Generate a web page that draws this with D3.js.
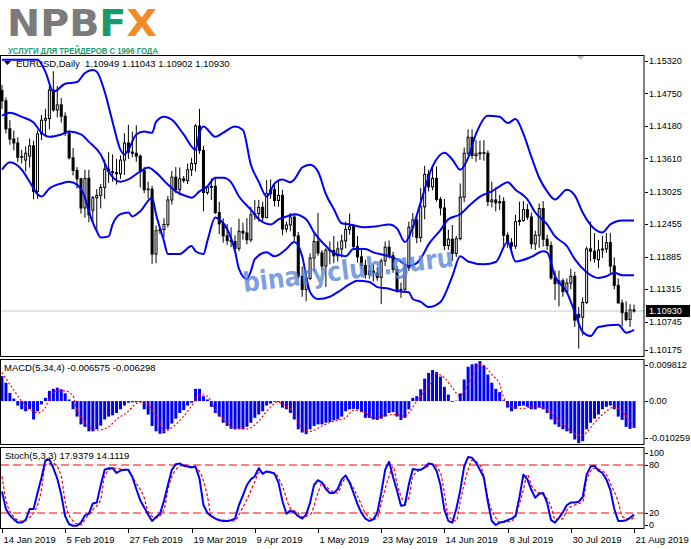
<!DOCTYPE html>
<html>
<head>
<meta charset="utf-8">
<script src="https://d3js.org/d3.v7.min.js"></script>
<style>
body { margin: 0; background: #fff; }
text { font-family: "Liberation Sans", Arial, sans-serif; }
</style>
</head>
<body>
<script>
var w = 691, h = 549;

// bar dates (2019, MM-DD) - includes the short sunday sessions of 10/17/24 Mar
var dates = ["01-14","01-15","01-16","01-17","01-18","01-21","01-22","01-23","01-24","01-25","01-28","01-29","01-30","01-31",
  "02-01","02-04","02-05","02-06","02-07","02-08","02-11","02-12","02-13","02-14","02-15","02-18","02-19","02-20","02-21","02-22","02-25","02-26","02-27","02-28",
  "03-01","03-04","03-05","03-06","03-07","03-08","03-10","03-11","03-12","03-13","03-14","03-15","03-17","03-18","03-19","03-20","03-21","03-22","03-24","03-25","03-26","03-27","03-28","03-29",
  "04-01","04-02","04-03","04-04","04-05","04-08","04-09","04-10","04-11","04-12","04-15","04-16","04-17","04-18","04-19","04-22","04-23","04-24","04-25","04-26","04-29","04-30",
  "05-01","05-02","05-03","05-06","05-07","05-08","05-09","05-10","05-13","05-14","05-15","05-16","05-17","05-20","05-21","05-22","05-23","05-24","05-27","05-28","05-29","05-30","05-31",
  "06-03","06-04","06-05","06-06","06-07","06-10","06-11","06-12","06-13","06-14","06-17","06-18","06-19","06-20","06-21","06-24","06-25","06-26","06-27","06-28",
  "07-01","07-02","07-03","07-04","07-05","07-08","07-09","07-10","07-11","07-12","07-15","07-16","07-17","07-18","07-19","07-22","07-23","07-24","07-25","07-26","07-29","07-30","07-31",
  "08-01","08-02","08-05","08-06","08-07","08-08","08-09","08-12","08-13","08-14","08-15","08-16","08-19","08-20","08-21"];

// open, high, low, close
var ohlc = [
  [1.1480,1.1490,1.1448,1.1462],[1.1462,1.1468,1.1405,1.1413],[1.1413,1.1428,1.1385,1.1395],[1.1395,1.1410,1.1375,1.1388],[1.1388,1.1398,1.1355,1.1363],
  [1.1363,1.1376,1.1352,1.1364],[1.1358,1.1382,1.1338,1.1370],[1.1365,1.1396,1.1345,1.1383],[1.1383,1.1392,1.1289,1.1303],[1.1303,1.1410,1.1290,1.1404],
  [1.1404,1.1437,1.1393,1.1428],[1.1428,1.1448,1.1402,1.1431],[1.1431,1.1490,1.1412,1.1481],[1.1481,1.1514,1.1443,1.1446],[1.1446,1.1488,1.1433,1.1455],
  [1.1455,1.1467,1.1424,1.1435],[1.1435,1.1442,1.1400,1.1405],[1.1405,1.1410,1.1359,1.1362],[1.1362,1.1379,1.1331,1.1340],[1.1340,1.1346,1.1308,1.1325],
  [1.1325,1.1327,1.1264,1.1274],[1.1274,1.1341,1.1257,1.1326],[1.1326,1.1341,1.1249,1.1262],[1.1270,1.1295,1.1249,1.1292],[1.1292,1.1307,1.1234,1.1296],
  [1.1296,1.1316,1.1273,1.1310],[1.1310,1.1359,1.1290,1.1342],[1.1342,1.1372,1.1318,1.1338],[1.1338,1.1368,1.1320,1.1336],[1.1336,1.1360,1.1315,1.1334],
  [1.1334,1.1366,1.1325,1.1358],[1.1358,1.1405,1.1332,1.1388],[1.1388,1.1420,1.1360,1.1372],[1.1372,1.1408,1.1363,1.1370],[1.1370,1.1419,1.1355,1.1365],
  [1.1365,1.1368,1.1310,1.1340],[1.1340,1.1346,1.1300,1.1306],[1.1306,1.1320,1.1290,1.1307],[1.1307,1.1313,1.1176,1.1193],[1.1193,1.1243,1.1177,1.1234],
  [1.1234,1.1240,1.1228,1.1236],[1.1236,1.1256,1.1222,1.1245],[1.1245,1.1295,1.1240,1.1288],[1.1288,1.1339,1.1280,1.1328],[1.1328,1.1346,1.1300,1.1306],
  [1.1306,1.1345,1.1296,1.1325],[1.1325,1.1330,1.1318,1.1322],[1.1322,1.1352,1.1316,1.1341],[1.1341,1.1362,1.1330,1.1352],[1.1352,1.1421,1.1338,1.1418],
  [1.1418,1.1448,1.1369,1.1375],[1.1375,1.1383,1.1268,1.1301],[1.1301,1.1313,1.1297,1.1310],[1.1310,1.1326,1.1288,1.1312],[1.1312,1.1325,1.1263,1.1266],
  [1.1266,1.1285,1.1228,1.1246],[1.1246,1.1256,1.1213,1.1225],[1.1225,1.1246,1.1209,1.1217],[1.1217,1.1240,1.1205,1.1215],[1.1215,1.1226,1.1196,1.1203],
  [1.1203,1.1255,1.1198,1.1233],[1.1233,1.1248,1.1218,1.1230],[1.1230,1.1256,1.1210,1.1218],[1.1218,1.1276,1.1214,1.1262],[1.1262,1.1288,1.1253,1.1264],
  [1.1264,1.1288,1.1250,1.1275],[1.1275,1.1285,1.1251,1.1257],[1.1257,1.1323,1.1256,1.1299],[1.1299,1.1324,1.1290,1.1306],[1.1306,1.1316,1.1277,1.1287],
  [1.1287,1.1323,1.1276,1.1296],[1.1296,1.1306,1.1226,1.1237],[1.1237,1.1250,1.1231,1.1244],[1.1244,1.1265,1.1233,1.1258],[1.1258,1.1264,1.1216,1.1225],
  [1.1225,1.1232,1.1149,1.1154],[1.1154,1.1171,1.1118,1.1131],[1.1131,1.1164,1.1110,1.1150],[1.1150,1.1194,1.1147,1.1186],[1.1186,1.1229,1.1162,1.1215],
  [1.1215,1.1265,1.1190,1.1195],[1.1195,1.1200,1.1164,1.1172],[1.1172,1.1203,1.1135,1.1200],[1.1200,1.1215,1.1175,1.1199],[1.1199,1.1225,1.1177,1.1190],
  [1.1190,1.1215,1.1180,1.1202],[1.1202,1.1227,1.1187,1.1216],[1.1216,1.1250,1.1203,1.1236],[1.1236,1.1264,1.1227,1.1241],[1.1241,1.1246,1.1200,1.1206],
  [1.1206,1.1225,1.1178,1.1188],[1.1188,1.1204,1.1166,1.1173],[1.1173,1.1183,1.1150,1.1157],[1.1157,1.1174,1.1150,1.1163],[1.1163,1.1175,1.1145,1.1160],
  [1.1160,1.1170,1.1146,1.1152],[1.1152,1.1185,1.1105,1.1181],[1.1181,1.1215,1.1172,1.1205],[1.1205,1.1217,1.1185,1.1190],[1.1190,1.1197,1.1160,1.1166],
  [1.1166,1.1172,1.1125,1.1130],[1.1130,1.1143,1.1116,1.1131],[1.1131,1.1176,1.1126,1.1169],[1.1169,1.1250,1.1163,1.1240],[1.1240,1.1265,1.1223,1.1253],
  [1.1253,1.1260,1.1212,1.1222],[1.1222,1.1309,1.1214,1.1276],[1.1276,1.1348,1.1254,1.1333],[1.1333,1.1341,1.1303,1.1311],[1.1311,1.1348,1.1305,1.1326],
  [1.1326,1.1347,1.1285,1.1289],[1.1289,1.1293,1.1261,1.1274],[1.1274,1.1290,1.1200,1.1208],[1.1208,1.1236,1.1200,1.1219],[1.1219,1.1244,1.1181,1.1194],
  [1.1194,1.1225,1.1188,1.1220],[1.1220,1.1317,1.1217,1.1293],[1.1293,1.1380,1.1284,1.1370],[1.1370,1.1412,1.1366,1.1398],[1.1398,1.1412,1.1360,1.1366],
  [1.1366,1.1393,1.1355,1.1369],[1.1369,1.1392,1.1358,1.1371],[1.1371,1.1393,1.1357,1.1370],[1.1370,1.1375,1.1277,1.1285],[1.1285,1.1320,1.1275,1.1288],
  [1.1288,1.1310,1.1268,1.1283],[1.1283,1.1297,1.1270,1.1285],[1.1285,1.1293,1.1206,1.1226],[1.1226,1.1231,1.1204,1.1213],[1.1213,1.1221,1.1193,1.1207],
  [1.1207,1.1262,1.1202,1.1250],[1.1250,1.1285,1.1243,1.1252],[1.1252,1.1286,1.1250,1.1271],[1.1271,1.1281,1.1253,1.1258],[1.1258,1.1266,1.1202,1.1211],
  [1.1211,1.1234,1.1200,1.1226],[1.1226,1.1282,1.1204,1.1273],[1.1273,1.1286,1.1206,1.1219],[1.1219,1.1227,1.1200,1.1208],[1.1208,1.1215,1.1148,1.1151],
  [1.1151,1.1164,1.1112,1.1141],[1.1141,1.1164,1.1101,1.1146],[1.1146,1.1150,1.1118,1.1127],[1.1127,1.1150,1.1124,1.1142],[1.1142,1.1167,1.1131,1.1154],
  [1.1154,1.1162,1.1065,1.1077],[1.1087,1.1100,1.1027,1.1082],[1.1082,1.1117,1.1050,1.1108],[1.1108,1.1206,1.1105,1.1202],[1.1202,1.1250,1.1180,1.1198],
  [1.1198,1.1230,1.1178,1.1185],[1.1183,1.1218,1.1168,1.1200],[1.1200,1.1225,1.1186,1.1202],[1.1202,1.1230,1.1195,1.1213],[1.1213,1.1230,1.1160,1.1172],
  [1.1172,1.1187,1.1131,1.1138],[1.1138,1.1150,1.1107,1.1107],[1.1107,1.1113,1.1066,1.1090],[1.1090,1.1110,1.1075,1.1078],[1.1078,1.1105,1.1065,1.1095],
  [1.10949,1.11043,1.10902,1.10930]
];

// bollinger bands as [bar index, price]
var bbUpper = [[0,1.1534],[9,1.1534],[11,1.1513],[13,1.1478],[16,1.1492],[19,1.1495],[21,1.1511],[23,1.1516],[24,1.1513],[26,1.1478],[28,1.1425],
  [30,1.1376],[31,1.1368],[32,1.1376],[34,1.1403],[36,1.1408],[38,1.1406],[39,1.1425],[41,1.1434],[43,1.1429],[46,1.1403],[49,1.1376],[50,1.1406],
  [51,1.1417],[54,1.1399],[56,1.1406],[59,1.1417],[61,1.1411],[63,1.1350],[65,1.1320],[67,1.1294],[69,1.1317],[71,1.1324],[73,1.1319],[74,1.1324],
  [76,1.1345],[78,1.1350],[80,1.1338],[82,1.1298],[84,1.1272],[86,1.1247],[88,1.1245],[92,1.1240],[95,1.1242],[98,1.1245],[100,1.1238],[102,1.1214],
  [104,1.1240],[106,1.1284],[109,1.1347],[112,1.1371],[114,1.1359],[116,1.1341],[118,1.1362],[120,1.1404],[123,1.1436],[126,1.1434],[128,1.1423],
  [130,1.1430],[132,1.1404],[134,1.1364],[136,1.1327],[138,1.1303],[140,1.1289],[143,1.1306],[145,1.1296],[147,1.1266],[150,1.1237],[152,1.1231],
  [154,1.1245],[157,1.1252],[160,1.1252]];
var bbMiddle = [[0,1.1436],[2,1.1441],[5,1.1434],[8,1.1424],[10,1.1406],[12,1.1399],[15,1.1403],[17,1.1408],[20,1.1403],[22,1.1390],[25,1.1368],
  [27,1.1338],[30,1.1320],[32,1.1324],[35,1.1338],[37,1.1345],[39,1.1336],[42,1.1315],[44,1.1303],[47,1.1294],[48,1.1292],[50,1.1303],[52,1.1312],
  [54,1.1327],[56,1.1327],[58,1.1319],[60,1.1294],[63,1.1271],[65,1.1254],[68,1.1245],[70,1.1254],[73,1.1261],[74,1.1263],[77,1.1254],[79,1.1231],
  [82,1.1207],[84,1.1195],[87,1.1189],[89,1.1202],[92,1.1202],[94,1.1196],[98,1.1189],[100,1.1184],[103,1.1172],[105,1.1177],[106,1.1185],[108,1.1210],
  [111,1.1235],[113,1.1254],[116,1.1263],[118,1.1276],[121,1.1294],[124,1.1303],[126,1.1312],[128,1.1319],[130,1.1306],[133,1.1289],[135,1.1266],
  [138,1.1245],[140,1.1224],[143,1.1207],[145,1.1184],[148,1.1161],[151,1.1151],[153,1.1154],[155,1.1160],[157,1.1156],[160,1.1156]];
var bbLower = [[0,1.1341],[2,1.1354],[5,1.1341],[7,1.1320],[9,1.1298],[10,1.1294],[12,1.1308],[15,1.1317],[17,1.1320],[19,1.1315],[21,1.1292],
  [22,1.1268],[24,1.1233],[25,1.1222],[27,1.1224],[28,1.1245],[30,1.1263],[32,1.1266],[33,1.1259],[35,1.1268],[38,1.1292],[39,1.1263],[41,1.1216],
  [42,1.1193],[45,1.1193],[48,1.1207],[49,1.1198],[51,1.1193],[52,1.1216],[54,1.1257],[55,1.1254],[57,1.1237],[59,1.1198],[60,1.1167],[62,1.1149],
  [63,1.1163],[64,1.1184],[67,1.1196],[69,1.1189],[72,1.1202],[74,1.1214],[76,1.1189],[77,1.1154],[78,1.1126],[80,1.1114],[83,1.1118],[85,1.1126],
  [88,1.1140],[90,1.1146],[93,1.1144],[95,1.1135],[98,1.1132],[100,1.1128],[103,1.1126],[104,1.1114],[106,1.1109],[108,1.1100],[111,1.1109],
  [114,1.1154],[116,1.1189],[118,1.1180],[122,1.1175],[125,1.1179],[128,1.1214],[130,1.1180],[134,1.1188],[137,1.1198],[138,1.1196],[140,1.1154],
  [143,1.1126],[145,1.1091],[147,1.1056],[149,1.1049],[151,1.1065],[156,1.1069],[158,1.1055],[160,1.1060]];

// MACD(5,34,4) histogram, one value per bar
var macdHist = [
  0.0061,0.0045,0.0020,0.0006,-0.0011,-0.0020,-0.0025,-0.0020,-0.0045,-0.0025,
  -0.0008,0.0008,0.0025,0.0030,0.0033,0.0029,0.0019,0.0004,-0.0020,-0.0038,
  -0.0057,-0.0063,-0.0074,-0.0074,-0.0069,-0.0060,-0.0045,-0.0038,-0.0035,-0.0029,
  -0.0020,-0.0011,-0.0004,-0.0003,-0.0003,-0.0002,-0.0020,-0.0033,-0.0061,-0.0074,
  -0.0080,-0.0079,-0.0069,-0.0055,-0.0043,-0.0029,-0.0022,-0.0011,-0.0004,0.0030,
  0.0030,0.0012,0.0004,-0.0014,-0.0029,-0.0038,-0.0053,-0.0061,-0.0068,-0.0069,
  -0.0068,-0.0069,-0.0063,-0.0053,-0.0041,-0.0033,-0.0025,-0.0011,-0.0006,-0.0002,
  -0.0002,-0.0016,-0.0020,-0.0029,-0.0045,-0.0069,-0.0077,-0.0081,-0.0069,-0.0061,
  -0.0057,-0.0057,-0.0053,-0.0051,-0.0047,-0.0045,-0.0038,-0.0025,-0.0020,-0.0019,
  -0.0020,-0.0027,-0.0041,-0.0041,-0.0045,-0.0046,-0.0043,-0.0038,-0.0029,-0.0027,
  -0.0038,-0.0046,-0.0041,-0.0020,0.0008,0.0012,0.0029,0.0055,0.0069,0.0076,
  0.0071,0.0060,0.0035,0.0016,-0.0002,0.0001,0.0019,0.0053,0.0084,0.0090,
  0.0092,0.0098,0.0087,0.0065,0.0045,0.0030,0.0022,0.0002,-0.0016,-0.0025,
  -0.0019,-0.0012,-0.0011,-0.0014,-0.0020,-0.0020,-0.0016,-0.0020,-0.0029,-0.0045,
  -0.0057,-0.0063,-0.0069,-0.0074,-0.0079,-0.0094,-0.0103,-0.0098,-0.0069,-0.0053,
  -0.0043,-0.0033,-0.0020,-0.0014,-0.0011,-0.0020,-0.0038,-0.0046,-0.0063,-0.0068,
  -0.006575];
var macdSignal = [[0,0.0070],[2,0.0041],[5,0.0000],[7,-0.0020],[9,-0.0029],[11,-0.0016],[12,0.0008],[14,0.0025],[16,0.0025],[18,0.0012],
  [19,-0.0020],[21,-0.0053],[24,-0.0071],[27,-0.0063],[29,-0.0045],[32,-0.0025],[34,-0.0006],[36,-0.0002],[38,-0.0020],[40,-0.0053],[41,-0.0074],
  [43,-0.0065],[46,-0.0037],[48,-0.0012],[50,0.0016],[52,0.0012],[54,-0.0020],[57,-0.0053],[59,-0.0068],[62,-0.0068],[65,-0.0049],[67,-0.0025],
  [70,-0.0002],[71,-0.0008],[74,-0.0029],[76,-0.0065],[78,-0.0074],[81,-0.0061],[84,-0.0049],[87,-0.0041],[89,-0.0022],[92,-0.0029],[94,-0.0041],
  [97,-0.0035],[100,-0.0033],[102,-0.0038],[103,-0.0029],[105,0.0000],[108,0.0037],[110,0.0067],[112,0.0057],[114,0.0033],[116,0.0012],[117,0.0025],
  [119,0.0061],[121,0.0090],[122,0.0087],[124,0.0065],[126,0.0041],[127,0.0008],[129,-0.0014],[132,-0.0018],[134,-0.0014],[137,-0.0016],[139,-0.0030],
  [142,-0.0057],[144,-0.0074],[147,-0.0084],[148,-0.0077],[150,-0.0053],[153,-0.0025],[155,-0.0014],[157,-0.0027],[160,-0.006298]];

// Stochastic(5,3,3)
var stochMain = [
  47,25,17,12,8,8,11,25,25,45, 64,86,87,76,63,43,16,6,4,4, 8,17,19,32,33,55,74,76,76,70,
  73,74,74,65,50,36,27,18,10,15, 19,35,55,74,81,82,79,78,77,78, 63,30,20,16,13,11,10,10,11,13,
  30,42,55,62,66,76,69,72,71,69, 58,35,19,23,21,16,13,18,33,55, 61,58,50,45,45,50,62,67,58,45,
  31,20,13,10,12,20,45,74,84,65, 48,29,30,56,75,74,74,77,82,81, 73,55,24,10,8,25,48,78,90,89,
  83,74,64,34,10,5,8,9,11,13, 16,40,68,62,49,39,44,45,33,11, 8,14,21,30,33,33,34,40,68,78,
  79,73,70,62,49,25,10,10,11,14, 17.9379];
var stochSignal = [[0,66],[1,37],[3,15],[5,10],[6,12],[8,20],[10,49],[11,80],[13,82],[15,66],[16,34],[18,10],[20,5],[21,12],[23,24],[25,37],
  [26,66],[28,76],[31,74],[32,72],[34,57],[36,39],[37,22],[39,14],[41,24],[42,49],[44,74],[46,80],[48,78],[50,72],[52,41],[53,16],[56,11],[59,10],
  [60,18],[62,37],[64,59],[65,70],[67,71],[69,70],[71,53],[73,26],[75,20],[76,15],[78,18],[80,45],[81,57],[83,49],[85,45],[86,56],[87,63],[88,59],
  [90,41],[92,20],[94,12],[95,14],[96,32],[98,66],[99,78],[100,57],[102,34],[103,39],[104,66],[106,74],[107,76],[109,81],[111,70],[112,45],[113,16],
  [115,10],[116,34],[118,74],[119,86],[121,80],[122,66],[123,39],[125,14],[126,8],[129,10],[130,18],[132,49],[133,68],[134,55],[136,45],[137,43],
  [139,28],[140,12],[142,13],[143,24],[145,30],[147,34],[148,61],[150,76],[151,75],[153,68],[154,57],[156,34],[157,16],[159,12],[160,14.1119]];

var priceTicks = [1.15320, 1.14750, 1.14180, 1.13610, 1.13025, 1.12455, 1.11885, 1.11315, 1.10745, 1.10175];
var macdTicks = [0.009812, 0, -0.010259];
var macdTickLabels = ["0.009812", "0.00", "-0.010259"];
var stochTicks = [100, 80, 20, 0];
var stochLevels = [80, 20];
var dateTicks = ["01-14","02-05","02-27","03-19","04-09","05-01","05-23","06-14","07-08","07-30","08-21"];
var dateTickLabels = ["14 Jan 2019","5 Feb 2019","27 Feb 2019","19 Mar 2019","9 Apr 2019","1 May 2019","23 May 2019","14 Jun 2019","8 Jul 2019","30 Jul 2019","21 Aug 2019"];
var lastPrice = 1.10930;

// panels
var left = 1, right = 644;
var main = { top: 55, bottom: 356 };
var macdP = { top: 359, bottom: 444 };
var stochP = { top: 447, bottom: 528 };

var svg = d3.select("body").append("svg")
    .attr("width", w).attr("height", h)
    .style("display", "block");

svg.append("rect").attr("width", w).attr("height", h).attr("fill", "#fff");

// ---- logo
var logo = svg.append("text")
    .attr("x", 7).attr("y", 36)
    .attr("font-size", 38).attr("font-weight", "bold")
    .style("font-family", "'DejaVu Sans', sans-serif")
    .attr("textLength", 150).attr("lengthAdjust", "spacingAndGlyphs");
logo.append("tspan").attr("fill", "#7b7b7b").text("NPB");
logo.append("tspan").attr("fill", "#1a9a6c").text("F");
logo.append("tspan").attr("fill", "#f28b26").text("X");

svg.append("text")
    .attr("x", 8).attr("y", 53.5)
    .attr("font-size", 9.2).attr("font-weight", "bold")
    .attr("fill", "#1a9a6c")
    .attr("textLength", 150).attr("lengthAdjust", "spacingAndGlyphs")
    .text("УСЛУГИ ДЛЯ ТРЕЙДЕРОВ С 1996 ГОДА");

// ---- scales
var x = d3.scaleBand().domain(dates).range([0, 636]);
var cx = function (d) { return x(d) + x.bandwidth() / 2; };
var xi = function (i) { return cx(dates[i]); };

var y = d3.scaleLinear().domain([1.10175, 1.15320]).range([354, 61]);
var yM = d3.scaleLinear().domain([-0.010259, 0.009812]).range([443, 361]);
var yS = d3.scaleLinear().domain([0, 100]).range([529, 449]);

var defs = svg.append("defs");
[["clipMain", main], ["clipMacd", macdP], ["clipStoch", stochP]].forEach(function (c) {
    defs.append("clipPath").attr("id", c[0]).append("rect")
        .attr("x", left).attr("y", c[1].top)
        .attr("width", right - left).attr("height", c[1].bottom - c[1].top);
});

// ---- main panel
var gMain = svg.append("g").attr("clip-path", "url(#clipMain)");

gMain.append("line")
    .attr("x1", left).attr("x2", right)
    .attr("y1", y(lastPrice)).attr("y2", y(lastPrice))
    .attr("stroke", "#c8c8c8").attr("stroke-width", 1);

// watermark
svg.append("text")
    .attr("transform", "translate(244,292) rotate(-7)")
    .attr("font-size", 27).attr("font-weight", "bold")
    .style("font-family", "'DejaVu Sans', sans-serif")
    .attr("fill", "#5b86d6").attr("fill-opacity", 0.8)
    .attr("textLength", 212).attr("lengthAdjust", "spacingAndGlyphs")
    .text("binaryclub.guru");

var candle = gMain.selectAll("g.candle")
    .data(ohlc)
    .enter().append("g").attr("class", "candle");

candle.append("line")
    .attr("x1", function (d, i) { return xi(i); })
    .attr("x2", function (d, i) { return xi(i); })
    .attr("y1", function (d) { return y(d[1]); })
    .attr("y2", function (d) { return y(d[2]); })
    .attr("stroke", "#000").attr("stroke-width", 1);

candle.append("rect")
    .attr("x", function (d, i) { return xi(i) - 1; })
    .attr("width", 2)
    .attr("y", function (d) { return y(Math.max(d[0], d[3])); })
    .attr("height", function (d) { return Math.max(0.5, Math.abs(y(d[0]) - y(d[3]))); })
    .attr("fill", function (d) { return d[3] >= d[0] ? "#fff" : "#000"; })
    .attr("stroke", "#000").attr("stroke-width", 1);

var bandLine = d3.line()
    .x(function (d) { return xi(d[0]); })
    .y(function (d) { return y(d[1]); })
    .curve(d3.curveMonotoneX);

[bbUpper, bbMiddle, bbLower].forEach(function (band) {
    gMain.append("path")
        .attr("d", bandLine(band))
        .attr("fill", "none")
        .attr("stroke", "#0000ff").attr("stroke-width", 2);
});

// shift marker
svg.append("path")
    .attr("d", "M576,55 L585,55 L580.5,60 Z")
    .attr("fill", "#bdbdbd");

// header
svg.append("path").attr("d", "M4,61 L11,61 L7.5,65 Z").attr("fill", "#000");
svg.append("text").attr("x", 16).attr("y", 67).attr("font-size", 9.5)
    .attr("fill", "#000").text("EURUSD,Daily");
svg.append("text").attr("x", 85).attr("y", 67).attr("font-size", 9.5)
    .attr("fill", "#000")
    .text(ohlc[ohlc.length - 1].map(function (v) { return v.toFixed(5); }).join(" "));

// ---- MACD panel
var gMacd = svg.append("g").attr("clip-path", "url(#clipMacd)");

gMacd.selectAll("rect.hist")
    .data(macdHist)
    .enter().append("rect").attr("class", "hist")
    .attr("x", function (d, i) { return xi(i) - 1.5; })
    .attr("width", 3)
    .attr("y", function (d) { return Math.min(yM(0), yM(d)); })
    .attr("height", function (d) { return Math.abs(yM(d) - yM(0)); })
    .attr("fill", "#0000ff");

gMacd.append("path")
    .attr("d", d3.line()
        .x(function (d) { return xi(d[0]); })
        .y(function (d) { return yM(d[1]); })
        .curve(d3.curveMonotoneX)(macdSignal))
    .attr("fill", "none")
    .attr("stroke", "#ff0000").attr("stroke-width", 1.2)
    .attr("stroke-dasharray", "2,2");

svg.append("text").attr("x", 4).attr("y", 371).attr("font-size", 9.5)
    .attr("fill", "#000")
    .text("MACD(5,34,4) " + macdHist[macdHist.length - 1].toFixed(6) + " " + macdSignal[macdSignal.length - 1][1].toFixed(6));

// ---- Stochastic panel
var gStoch = svg.append("g").attr("clip-path", "url(#clipStoch)");

gStoch.selectAll("line.level")
    .data(stochLevels)
    .enter().append("line").attr("class", "level")
    .attr("x1", left).attr("x2", right)
    .attr("y1", function (d) { return yS(d); })
    .attr("y2", function (d) { return yS(d); })
    .attr("stroke", "#ff0000").attr("stroke-width", 1)
    .attr("stroke-dasharray", "8,4");

gStoch.append("path")
    .attr("d", d3.line()
        .x(function (d) { return xi(d[0]); })
        .y(function (d) { return yS(d[1]); })
        .curve(d3.curveMonotoneX)(stochSignal))
    .attr("fill", "none")
    .attr("stroke", "#ff0000").attr("stroke-width", 1.2)
    .attr("stroke-dasharray", "3,2");

gStoch.append("path")
    .attr("d", d3.line()
        .x(function (d, i) { return xi(i); })
        .y(function (d) { return yS(d); })(stochMain))
    .attr("fill", "none")
    .attr("stroke", "#0000ff").attr("stroke-width", 2)
    .attr("stroke-linejoin", "round");

svg.append("text").attr("x", 5).attr("y", 459).attr("font-size", 9.5)
    .attr("fill", "#000")
    .text("Stoch(5,3,3) " + stochMain[stochMain.length - 1].toFixed(4) + " " + stochSignal[stochSignal.length - 1][1].toFixed(4));

// ---- frames
[main, macdP, stochP].forEach(function (p) {
    svg.append("rect")
        .attr("x", left - 0.5).attr("y", p.top + 0.5)
        .attr("width", right - left + 0.5).attr("height", p.bottom - p.top)
        .attr("fill", "none").attr("stroke", "#000").attr("stroke-width", 1);
});

// ---- right axes
function rightAxis(ticks, labels, scale, p, pad) {
    var g = svg.append("g");
    ticks.forEach(function (v, k) {
        var ty = Math.max(p.top + 6, Math.min(p.bottom - pad, scale(v)));
        g.append("line")
            .attr("x1", right + 1).attr("x2", right + 4)
            .attr("y1", Math.round(ty) + 0.5).attr("y2", Math.round(ty) + 0.5)
            .attr("stroke", "#000");
        g.append("text")
            .attr("x", right + 5).attr("y", ty + 3.3)
            .attr("font-size", 9.1).attr("fill", "#000")
            .text(labels[k]);
    });
}
rightAxis(priceTicks, priceTicks.map(function (v) { return v.toFixed(5); }), y, main, 6);
rightAxis(macdTicks, macdTickLabels, yM, macdP, 6);
rightAxis(stochTicks, stochTicks.map(String), yS, stochP, 3);

// current price tag
svg.append("rect")
    .attr("x", right + 2).attr("y", y(lastPrice) - 6)
    .attr("width", 44).attr("height", 12)
    .attr("fill", "#000");
svg.append("text")
    .attr("x", right + 5).attr("y", y(lastPrice) + 3.3)
    .attr("font-size", 9.1).attr("fill", "#fff")
    .text(lastPrice.toFixed(5));

// ---- date axis
var gDate = svg.append("g");
dateTicks.forEach(function (d, k) {
    var tx = Math.round(cx(d)) + 0.5;
    gDate.append("line")
        .attr("x1", tx).attr("x2", tx)
        .attr("y1", stochP.bottom + 1).attr("y2", stochP.bottom + 5)
        .attr("stroke", "#000");
    gDate.append("text")
        .attr("x", tx + 1).attr("y", 543)
        .attr("font-size", 9.5).attr("fill", "#000")
        .text(dateTickLabels[k]);
});
</script>
</body>
</html>
